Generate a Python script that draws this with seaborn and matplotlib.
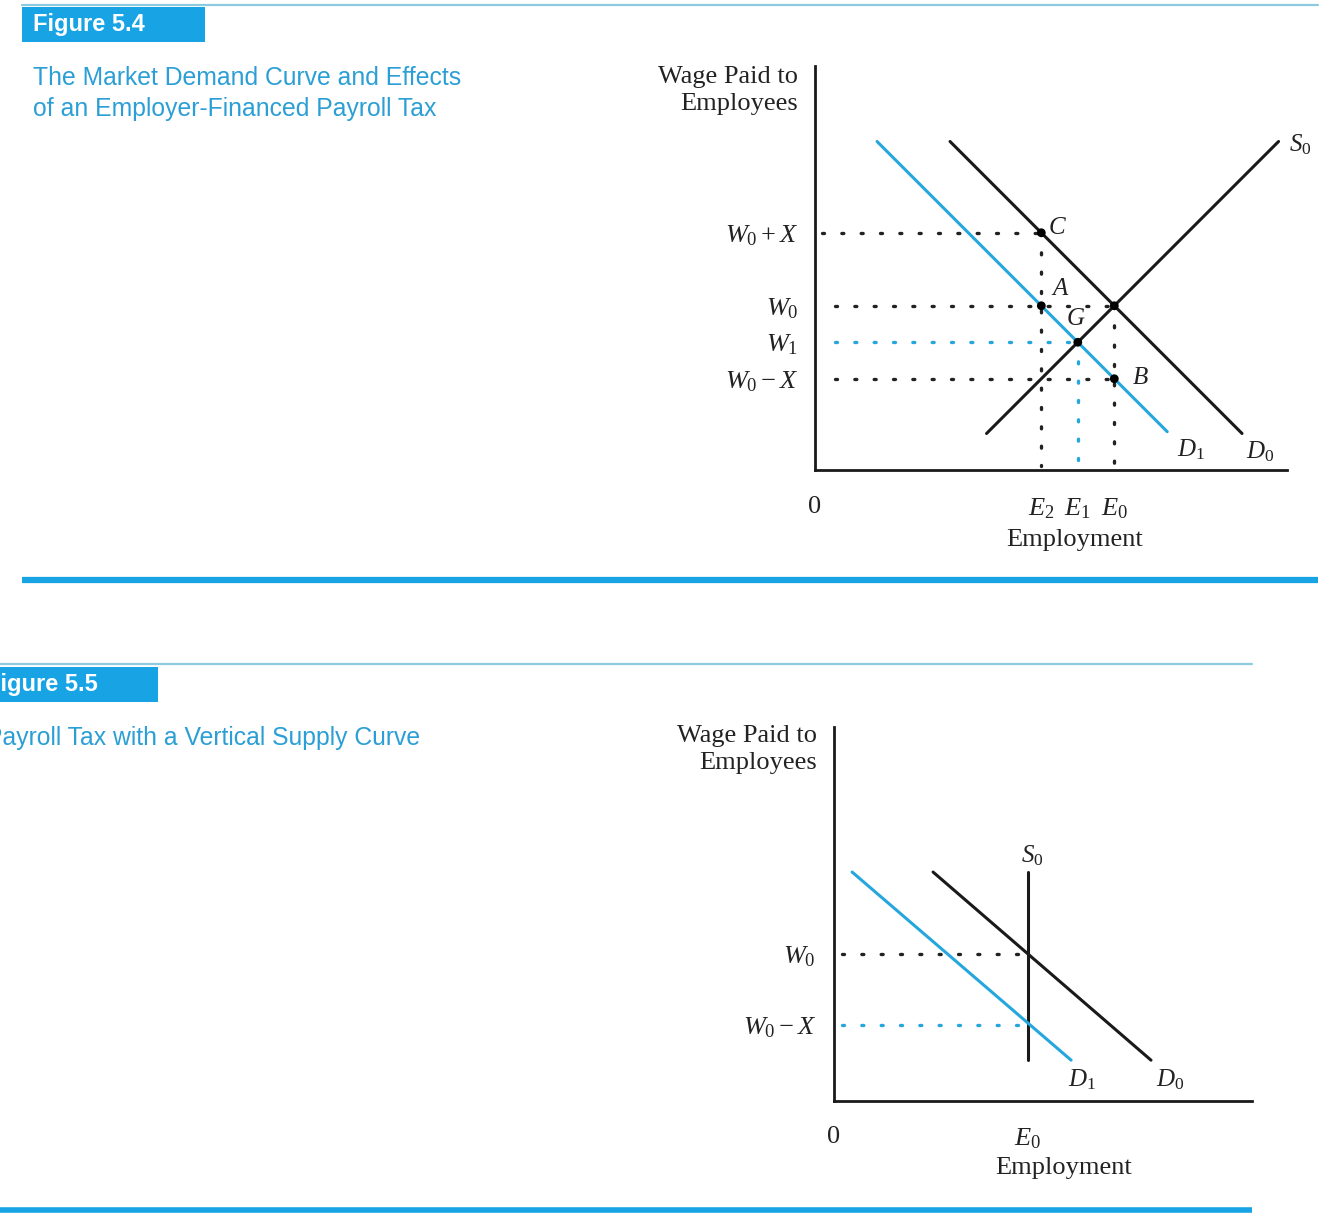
import matplotlib
matplotlib.use("Agg")

import matplotlib.pyplot as plt
from matplotlib.patches import Rectangle
import pandas as pd
import seaborn as sns


BLUE = "#25a7dd"
BOX_BLUE = "#17a3e4"
TITLE_BLUE = "#2b9fd5"
RULE_BLUE = "#8ccadf"
INK = "#222222"
SERIF = "Liberation Serif"
SANS = "Liberation Sans"
LABEL_SIZE = 19

# ---- Figure 5.4 data (chart units: employment on x, wage on y) ----
F4_WAGE_TICKS = [2.5, 3.5, 4.5, 6.5]
F4_WAGE_LABELS = [r"$W_0 - X$", r"$W_1$", r"$W_0$", r"$W_0 + X$"]
F4_EMP_TICKS = [0.0, 6.2, 7.2, 8.2]
F4_EMP_LABELS = ["0", r"$E_2$", r"$E_1$", r"$E_0$"]

F4_D0_EMP = [3.7, 11.7]
F4_D0_WAGE = [9.0, 1.0]
F4_D1_EMP = [1.7, 9.65]
F4_D1_WAGE = [9.0, 1.05]
F4_S0_EMP = [4.7, 12.7]
F4_S0_WAGE = [1.0, 9.0]

F4_POINT_NAMES = ["C", "A", "G", "B", ""]
F4_POINT_EMP = [6.2, 6.2, 7.2, 8.2, 8.2]
F4_POINT_WAGE = [6.5, 4.5, 3.5, 2.5, 4.5]

# ---- Figure 5.5 data ----
F5_WAGE_TICKS = [2.15, 4.15]
F5_WAGE_LABELS = [r"$W_0 - X$", r"$W_0$"]
F5_EMP_TICKS = [0.0, 5.46]
F5_EMP_LABELS = ["0", r"$E_0$"]

F5_D0_EMP = [2.79, 8.93]
F5_D0_WAGE = [6.45, 1.15]
F5_D1_EMP = [0.51, 6.68]
F5_D1_WAGE = [6.45, 1.15]
F5_S0_EMP = [5.46, 5.46]
F5_S0_WAGE = [1.15, 6.45]


def draw_curve(ax, emp, wage, color):
    frame = pd.DataFrame({"Employment": emp, "Wage": wage})
    sns.lineplot(data=frame, x="Employment", y="Wage", color=color,
                 linewidth=2.2, sort=False, estimator=None, ax=ax)


def dotted(ax, xs, ys, color):
    ax.plot(xs, ys, color=color, linewidth=2.4, linestyle=(0, (0.6, 5.2)),
            dash_capstyle="round", zorder=1)


def style_axes(ax, xlim, ylim, xticks, xlabels, yticks, ylabels, xpad, ypad):
    ax.set_xlim(*xlim)
    ax.set_ylim(*ylim)
    ax.set_facecolor("none")
    for side in ["top", "right"]:
        ax.spines[side].set_visible(False)
    for side in ["left", "bottom"]:
        ax.spines[side].set_linewidth(2.0)
        ax.spines[side].set_color("#1a1a1a")
    ax.set_xticks(xticks)
    ax.set_xticklabels(xlabels, fontsize=LABEL_SIZE, color=INK)
    ax.set_yticks(yticks)
    ax.set_yticklabels(ylabels, fontsize=LABEL_SIZE, color=INK)
    ax.tick_params(axis="x", length=0, pad=xpad)
    ax.tick_params(axis="y", length=0, pad=ypad)
    ax.set_xlabel("")
    ax.set_ylabel("")
    ax.grid(False)


sns.set_theme(style="white")
plt.rcParams["font.family"] = [SERIF, "DejaVu Serif"]
plt.rcParams["mathtext.fontset"] = "custom"
plt.rcParams["mathtext.rm"] = SERIF
plt.rcParams["mathtext.it"] = SERIF + ":italic"
plt.rcParams["mathtext.default"] = "it"

W, H = 1334, 1229
fig = plt.figure(figsize=(W / 100, H / 100), dpi=100)
fig.patch.set_facecolor("white")

# background layer in pixel coordinates for the page decorations
bg = fig.add_axes([0, 0, 1, 1], zorder=0)
bg.set_xlim(0, W)
bg.set_ylim(H, 0)
bg.axis("off")

# Figure 5.4 header
bg.plot([22, 1318], [5, 5], color=RULE_BLUE, linewidth=1.6)
bg.add_patch(Rectangle((22, 7), 183, 35, color=BOX_BLUE, lw=0))
bg.text(33, 25, "Figure 5.4", color="white", fontsize=17, fontweight="bold",
        family=SANS, va="center", ha="left")
bg.text(33, 78, "The Market Demand Curve and Effects", color=TITLE_BLUE,
        fontsize=17.8, family=SANS, va="center", ha="left")
bg.text(33, 109, "of an Employer-Financed Payroll Tax", color=TITLE_BLUE,
        fontsize=17.8, family=SANS, va="center", ha="left")
bg.plot([22, 1318], [580, 580], color=BOX_BLUE, linewidth=4.5,
        solid_capstyle="butt")

# Figure 5.5 header (the page is cropped on the left, as in the original scan)
bg.plot([0, 1252], [664, 664], color=RULE_BLUE, linewidth=1.6)
bg.add_patch(Rectangle((-25, 667), 183, 35, color=BOX_BLUE, lw=0))
bg.text(-14, 685, "Figure 5.5", color="white", fontsize=17, fontweight="bold",
        family=SANS, va="center", ha="left")
bg.text(-14, 738, "Payroll Tax with a Vertical Supply Curve", color=TITLE_BLUE,
        fontsize=17.8, family=SANS, va="center", ha="left")
bg.plot([0, 1252], [1210, 1210], color=BOX_BLUE, linewidth=4.0,
        solid_capstyle="butt")

# axis titles
for px, py, txt in [(798, 77, "Wage Paid to"), (798, 104, "Employees"),
                    (817, 736, "Wage Paid to"), (817, 763, "Employees")]:
    bg.text(px, py, txt, fontsize=LABEL_SIZE, color=INK, ha="right", va="center")
bg.text(1075, 540, "Employment", fontsize=LABEL_SIZE, color=INK,
        ha="center", va="center")
bg.text(1064, 1168, "Employment", fontsize=LABEL_SIZE, color=INK,
        ha="center", va="center")

# ---------------- Figure 5.4 chart ----------------
ax4 = fig.add_axes([815 / W, 1 - 470 / H, 472 / W, 404 / H], zorder=2)
draw_curve(ax4, F4_D0_EMP, F4_D0_WAGE, "#1a1a1a")
draw_curve(ax4, F4_S0_EMP, F4_S0_WAGE, "#1a1a1a")
draw_curve(ax4, F4_D1_EMP, F4_D1_WAGE, BLUE)

w_lo, w1, w0, w_hi = F4_WAGE_TICKS
e2, e1, e0 = F4_EMP_TICKS[1:]
dotted(ax4, [0.2, e2], [w_hi, w_hi], INK)
dotted(ax4, [0.55, e0], [w0, w0], INK)
dotted(ax4, [0.55, e1], [w1, w1], BLUE)
dotted(ax4, [0.55, e0], [w_lo, w_lo], INK)
dotted(ax4, [e2, e2], [w_hi, 0.1], INK)
dotted(ax4, [e1, e1], [w1, 0.1], BLUE)
dotted(ax4, [e0, e0], [w0, 0.1], INK)

sns.scatterplot(x=F4_POINT_EMP, y=F4_POINT_WAGE, color="black", s=40,
                edgecolor="none", zorder=5, ax=ax4)
label_offsets = {"C": (0.45, 0.13), "A": (0.53, 0.46), "G": (-0.05, 0.63),
                 "B": (0.72, 0.02)}
for name, ex, wy in zip(F4_POINT_NAMES, F4_POINT_EMP, F4_POINT_WAGE):
    if name:
        dx, dy = label_offsets[name]
        ax4.text(ex + dx, wy + dy, f"${name}$", fontsize=18, color=INK,
                 ha="center", va="center")
ax4.text(10.3, 0.55, r"$D_1$", fontsize=18, ha="center", va="center", color=INK)
ax4.text(12.2, 0.5, r"$D_0$", fontsize=18, ha="center", va="center", color=INK)
ax4.text(13.3, 8.9, r"$S_0$", fontsize=18, ha="center", va="center",
         color=INK, clip_on=False)

style_axes(ax4, (0, 472 / 36.5), (0, 404 / 36.5), F4_EMP_TICKS, F4_EMP_LABELS,
           F4_WAGE_TICKS, F4_WAGE_LABELS, xpad=19, ypad=12)

# ---------------- Figure 5.5 chart ----------------
ax5 = fig.add_axes([834 / W, 1 - 1101 / H, 418 / W, 374 / H], zorder=2)
draw_curve(ax5, F5_D0_EMP, F5_D0_WAGE, "#1a1a1a")
draw_curve(ax5, F5_S0_EMP, F5_S0_WAGE, "#1a1a1a")
draw_curve(ax5, F5_D1_EMP, F5_D1_WAGE, BLUE)

f5_lo, f5_w0 = F5_WAGE_TICKS
f5_e0 = F5_EMP_TICKS[1]
dotted(ax5, [0.23, f5_e0], [f5_w0, f5_w0], INK)
dotted(ax5, [0.23, f5_e0], [f5_lo, f5_lo], BLUE)

ax5.text(5.58, 6.9, r"$S_0$", fontsize=18, ha="center", va="center", color=INK)
ax5.text(7.0, 0.59, r"$D_1$", fontsize=18, ha="center", va="center", color=INK)
ax5.text(9.47, 0.59, r"$D_0$", fontsize=18, ha="center", va="center", color=INK)

style_axes(ax5, (0, 418 / 35.5), (0, 374 / 35.5), F5_EMP_TICKS, F5_EMP_LABELS,
           F5_WAGE_TICKS, F5_WAGE_LABELS, xpad=18, ypad=13)

fig.savefig("out.png", dpi=100, facecolor="white")
